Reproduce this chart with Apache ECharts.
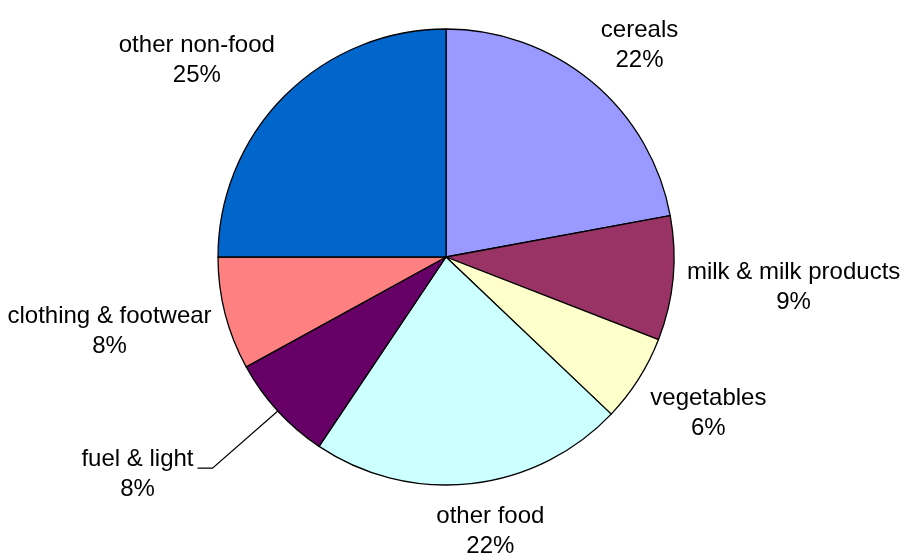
<!DOCTYPE html>
<html>
<head>
<meta charset="utf-8">
<style>
  html, body { margin: 0; padding: 0; background: #ffffff; }
  #chart { width: 906px; height: 555px; }
</style>
<script src="https://cdn.jsdelivr.net/npm/echarts@6/dist/echarts.min.js"></script>
</head>
<body>
<div id="chart"></div>
<script>
const categories = ['cereals', 'milk & milk products', 'vegetables', 'other food', 'fuel & light', 'clothing & footwear', 'other non-food'];
const shares = [22.1, 8.8, 6.2, 22.3, 7.6, 8.0, 25.0];
const colors = ['#9999FF', '#993366', '#FFFFCC', '#CCFFFF', '#660066', '#FF8080', '#0066CC'];

// layout / style
const CX = 446, CY = 257, RADIUS = 228, LABEL_GAP = 14;
const TEXT_SHIFT = 4; // baseline compensation for the label text
const leaderLabel = { index: 4, dx: -74, dy: 21 }; // label pulled away with a leader line

const total = shares.reduce((a, b) => a + b, 0);
function midAngle(i) {
  let s = 0;
  for (let k = 0; k < i; k++) s += shares[k];
  return (s + shares[i] / 2) / total * 2 * Math.PI;
}
const clamp = v => Math.max(-1, Math.min(1, v));

const data = categories.map((name, i) => {
  const item = { name: name, value: shares[i], itemStyle: { color: colors[i] } };
  if (i === leaderLabel.index) item.labelLine = { show: true };
  return item;
});

const chart = echarts.init(document.getElementById('chart'), null, { renderer: 'canvas' });
chart.setOption({
  backgroundColor: '#ffffff',
  animation: false,
  series: [{
    type: 'pie',
    center: [CX, CY],
    radius: RADIUS,
    startAngle: 90,
    clockwise: true,
    avoidLabelOverlap: false,
    itemStyle: { borderColor: '#000000', borderWidth: 1.3 },
    emphasis: { disabled: true },
    label: {
      show: true,
      position: 'outside',
      formatter: p => p.name + '\n' + Math.round(p.percent) + '%',
      fontFamily: '"Liberation Sans", Arial, sans-serif',
      fontSize: 24,
      lineHeight: 30,
      color: '#000000',
      align: 'center'
    },
    labelLine: {
      show: false,
      lineStyle: { color: '#000000', width: 1.2 }
    },
    labelLayout: function (p) {
      const a = midAngle(p.dataIndex);
      const ux = Math.sin(a), uy = -Math.cos(a);
      const hw = p.labelRect.width / 2, hh = p.labelRect.height / 2;
      let x = CX + ux * (RADIUS + LABEL_GAP) + hw * clamp(3 * ux);
      let y = CY + uy * (RADIUS + LABEL_GAP) + hh * clamp(Math.SQRT2 * uy);
      const res = { align: 'center', verticalAlign: 'middle' };
      if (p.dataIndex === leaderLabel.index) {
        x += leaderLabel.dx;
        y += leaderLabel.dy;
        const right = x + hw;
        res.labelLinePoints = [
          [CX + ux * RADIUS, CY + uy * RADIUS],
          [right + 19, y - 2],
          [right + 4, y - 2]
        ];
      }
      res.x = x;
      res.y = y + TEXT_SHIFT;
      return res;
    },
    data: data
  }]
});
</script>
</body>
</html>
